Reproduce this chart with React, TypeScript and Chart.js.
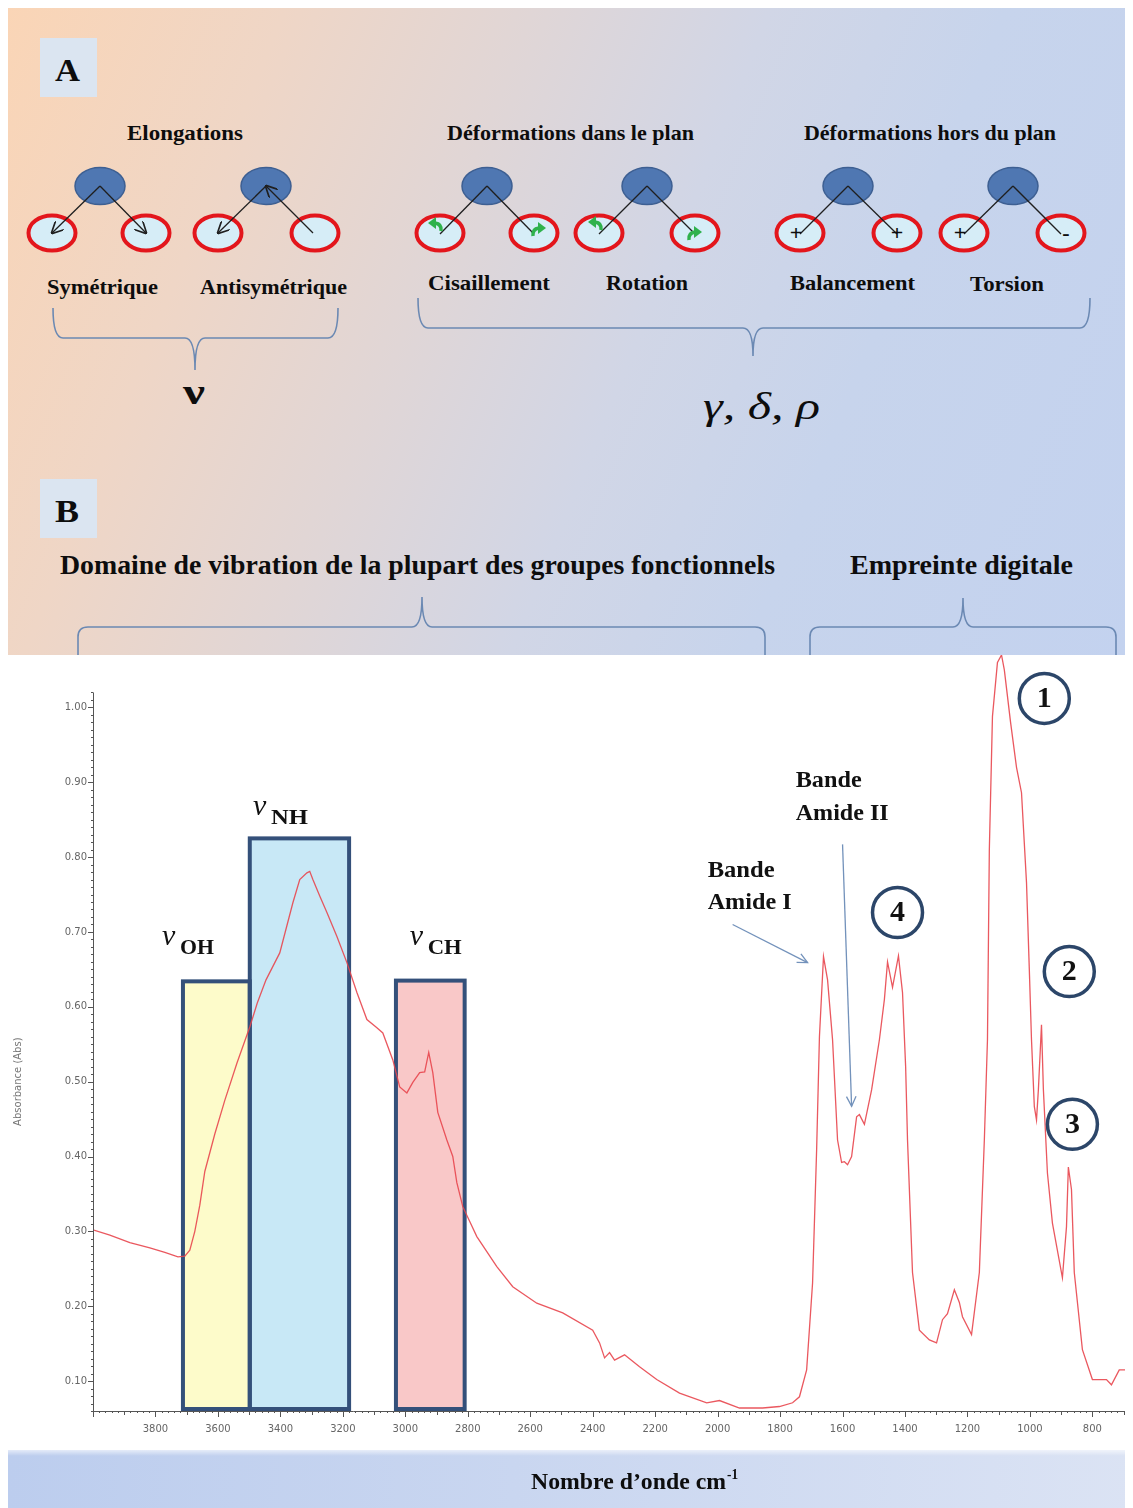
import React, { useEffect, useRef } from "react";
import { Chart, registerables } from "chart.js";

Chart.register(...registerables);

if (typeof document !== "undefined") {
  document.documentElement.style.overflow = "hidden";
}

// ---------- spectrum data (wavenumber cm-1, absorbance) ----------
const wavenumbers = [
  4000, 3946, 3882, 3818, 3770, 3728, 3706, 3690, 3674, 3658,
  3642, 3610, 3578, 3539, 3498, 3474, 3446, 3402, 3360, 3338,
  3315, 3306, 3296, 3274, 3251, 3219, 3187, 3155, 3123, 3091,
  3072, 3040, 3018, 2995, 2976, 2954, 2938, 2925, 2912, 2896,
  2867, 2848, 2835, 2816, 2771, 2707, 2656, 2579, 2496, 2400,
  2378, 2362, 2346, 2330, 2298, 2250, 2195, 2122, 2035, 1994,
  1930, 1856, 1802, 1760, 1738, 1715, 1696, 1683, 1674, 1661,
  1648, 1632, 1616, 1603, 1594, 1584, 1571, 1555, 1546, 1530,
  1507, 1482, 1466, 1456, 1440, 1421, 1408, 1398, 1392, 1376,
  1354, 1322, 1299, 1280, 1264, 1242, 1226, 1216, 1187, 1162,
  1146, 1136, 1130, 1120, 1104, 1091, 1082, 1062, 1043, 1027,
  1011, 1002, 995, 986, 979, 973, 963, 957, 944, 928,
  896, 883, 877, 867, 858, 832, 800, 755, 739, 714,
  691, 672,
];
const absorbance = [
  0.302, 0.295, 0.285, 0.278, 0.272, 0.266, 0.267, 0.275, 0.300, 0.335,
  0.380, 0.430, 0.475, 0.525, 0.573, 0.605, 0.636, 0.672, 0.739, 0.770,
  0.779, 0.781, 0.770, 0.748, 0.726, 0.694, 0.659, 0.619, 0.583, 0.572,
  0.565, 0.529, 0.493, 0.485, 0.499, 0.512, 0.513, 0.539, 0.512, 0.459,
  0.422, 0.400, 0.365, 0.333, 0.293, 0.253, 0.226, 0.204, 0.191, 0.168,
  0.151, 0.131, 0.138, 0.128, 0.135, 0.119, 0.102, 0.084, 0.071, 0.074,
  0.064, 0.064, 0.066, 0.071, 0.079, 0.115, 0.231, 0.409, 0.560, 0.667,
  0.636, 0.556, 0.422, 0.392, 0.393, 0.389, 0.400, 0.453, 0.456, 0.443,
  0.489, 0.556, 0.610, 0.660, 0.626, 0.668, 0.619, 0.520, 0.422, 0.245,
  0.168, 0.155, 0.151, 0.182, 0.190, 0.222, 0.205, 0.186, 0.162, 0.245,
  0.422, 0.556, 0.810, 0.988, 1.060, 1.070, 1.050, 0.980, 0.920, 0.886,
  0.766, 0.650, 0.556, 0.467, 0.449, 0.489, 0.576, 0.490, 0.378, 0.311,
  0.238, 0.306, 0.386, 0.356, 0.245, 0.142, 0.102, 0.102, 0.095, 0.115,
  0.115, 0.142,
];

// ---------- axis ticks ----------
const xTickLabels = [3800, 3600, 3400, 3200, 3000, 2800, 2600, 2400, 2200, 2000, 1800, 1600, 1400, 1200, 1000, 800];
const yTickLabels = [0.1, 0.2, 0.3, 0.4, 0.5, 0.6, 0.7, 0.8, 0.9, 1.0];
const yAxisTitle = "Absorbance (Abs)";

// ---------- stretching bands (boxes) ----------
const bandNames = ["OH", "NH", "CH"];
const bandFrom = [3712, 3498, 3030];
const bandTo = [3498, 3180, 2810];
const bandTop = [0.634, 0.825, 0.635];
const bandLabelW = [3779, 3488, 2986];
const bandLabelA = [0.671, 0.844, 0.670];

// ---------- numbered peaks ----------
const peakNumbers = ["1", "2", "3", "4"];
const peakCircleW = [954, 874, 864, 1424];
const peakCircleA = [1.012, 0.647, 0.443, 0.726];

// ---------- amide annotations ----------
const amideLines = ["Bande", "Amide I", "Bande", "Amide II"];
const amideTextW = [2032, 2032, 1750, 1750];
const amideTextA = [0.773, 0.730, 0.893, 0.850];
const amideArrowFromW = [1952, 1600];
const amideArrowFromA = [0.710, 0.817];
const amideArrowToW = [1712, 1571];
const amideArrowToA = [0.659, 0.467];

const X_MIN = 670;
const X_MAX = 4000;
const Y_MIN = 0.06;
const Y_MAX = 1.07;

const SERIF = '"Liberation Serif", "Times New Roman", serif';
const TICKFONT = '10px "DejaVu Sans", sans-serif';

function fitText(ctx: CanvasRenderingContext2D, text: string, x: number, y: number, w: number) {
  const m = ctx.measureText(text).width || 1;
  ctx.save();
  ctx.translate(x, y);
  ctx.scale(w / m, 1);
  ctx.fillText(text, 0, 0);
  ctx.restore();
}

function arrow(ctx: CanvasRenderingContext2D, x1: number, y1: number, x2: number, y2: number, head: number) {
  ctx.beginPath();
  ctx.moveTo(x1, y1);
  ctx.lineTo(x2, y2);
  ctx.stroke();
  const a = Math.atan2(y2 - y1, x2 - x1);
  ctx.beginPath();
  ctx.moveTo(x2 - head * Math.cos(a - 0.45), y2 - head * Math.sin(a - 0.45));
  ctx.lineTo(x2, y2);
  ctx.lineTo(x2 - head * Math.cos(a + 0.45), y2 - head * Math.sin(a + 0.45));
  ctx.stroke();
}

const bandColors = ["#fdfbca", "#c8e8f6", "#f9c8c8"];

const overlayPlugin = {
  id: "overlay",
  beforeDatasetsDraw(chart: any) {
    const { ctx, chartArea } = chart;
    const x = chart.scales.x;
    const y = chart.scales.y;
    ctx.save();
    for (let i = 0; i < bandNames.length; i++) {
      const x1 = x.getPixelForValue(bandFrom[i]);
      const x2 = x.getPixelForValue(bandTo[i]);
      const yt = y.getPixelForValue(bandTop[i]);
      ctx.fillStyle = bandColors[i];
      ctx.fillRect(x1, yt, x2 - x1, chartArea.bottom - yt);
    }
    ctx.strokeStyle = "#34507a";
    ctx.lineWidth = 4;
    for (let i = 0; i < bandNames.length; i++) {
      const x1 = x.getPixelForValue(bandFrom[i]);
      const x2 = x.getPixelForValue(bandTo[i]);
      const yt = y.getPixelForValue(bandTop[i]);
      ctx.strokeRect(x1, yt, x2 - x1, chartArea.bottom - 2 - yt);
    }
    ctx.restore();
  },
  afterDatasetsDraw(chart: any) {
    const { ctx, chartArea } = chart;
    const x = chart.scales.x;
    const y = chart.scales.y;
    ctx.save();

    // axes lines and ticks
    ctx.strokeStyle = "#555";
    ctx.lineWidth = 1;
    const yTop = y.getPixelForValue(1.02);
    ctx.beginPath();
    ctx.moveTo(chartArea.left + 0.5, yTop);
    ctx.lineTo(chartArea.left + 0.5, chartArea.bottom + 0.5);
    ctx.lineTo(chartArea.right, chartArea.bottom + 0.5);
    ctx.stroke();
    ctx.beginPath();
    for (let v = 6; v <= 102; v++) {
      const py = Math.round(y.getPixelForValue(v / 100)) + 0.5;
      const len = v % 10 === 0 ? 5 : 2;
      ctx.moveTo(chartArea.left - len, py);
      ctx.lineTo(chartArea.left, py);
    }
    for (let w = 680; w <= 4000; w += 20) {
      const px = Math.round(x.getPixelForValue(w)) + 0.5;
      const len = w % 200 === 0 ? 6 : w % 100 === 0 ? 4 : 2;
      ctx.moveTo(px, chartArea.bottom);
      ctx.lineTo(px, chartArea.bottom + len);
    }
    ctx.stroke();

    // tick labels
    ctx.fillStyle = "#666";
    ctx.font = TICKFONT;
    ctx.textAlign = "right";
    ctx.textBaseline = "middle";
    for (const v of yTickLabels) {
      ctx.fillText(v.toFixed(2), chartArea.left - 6, y.getPixelForValue(v));
    }
    ctx.textAlign = "center";
    ctx.textBaseline = "top";
    for (const v of xTickLabels) {
      ctx.fillText(String(v), x.getPixelForValue(v), chartArea.bottom + 13);
    }
    // y title
    ctx.save();
    ctx.translate(10, (y.getPixelForValue(0.3) + y.getPixelForValue(0.7)) / 2);
    ctx.rotate(-Math.PI / 2);
    ctx.fillStyle = "#777";
    ctx.textAlign = "center";
    ctx.textBaseline = "middle";
    ctx.fillText(yAxisTitle, 0, 0);
    ctx.restore();

    // band labels  ν_XX
    ctx.fillStyle = "#111";
    for (let i = 0; i < bandNames.length; i++) {
      const px = x.getPixelForValue(bandLabelW[i]);
      const py = y.getPixelForValue(bandLabelA[i]);
      ctx.font = `italic 30px ${SERIF}`;
      ctx.textAlign = "left";
      ctx.textBaseline = "alphabetic";
      ctx.fillText("ν", px, py - 9);
      ctx.font = `bold 22px ${SERIF}`;
      fitText(ctx, bandNames[i], px + 18, py, i === 1 ? 37 : 34);
    }

    // amide texts
    ctx.font = `bold 23px ${SERIF}`;
    ctx.textAlign = "left";
    ctx.textBaseline = "alphabetic";
    const amideWidths = [67, 84, 66, 93];
    for (let i = 0; i < amideLines.length; i++) {
      fitText(ctx, amideLines[i], x.getPixelForValue(amideTextW[i]), y.getPixelForValue(amideTextA[i]), amideWidths[i]);
    }
    ctx.strokeStyle = "#7392bb";
    ctx.lineWidth = 1.3;
    for (let i = 0; i < amideArrowFromW.length; i++) {
      arrow(
        ctx,
        x.getPixelForValue(amideArrowFromW[i]),
        y.getPixelForValue(amideArrowFromA[i]),
        x.getPixelForValue(amideArrowToW[i]),
        y.getPixelForValue(amideArrowToA[i]),
        11
      );
    }

    // numbered circles
    for (let i = 0; i < peakNumbers.length; i++) {
      const cx = x.getPixelForValue(peakCircleW[i]);
      const cy = y.getPixelForValue(peakCircleA[i]);
      ctx.beginPath();
      ctx.arc(cx, cy, 25, 0, Math.PI * 2);
      ctx.fillStyle = "rgba(255,255,255,0.9)";
      ctx.fill();
      ctx.strokeStyle = "#2c4669";
      ctx.lineWidth = 3.5;
      ctx.stroke();
      ctx.fillStyle = "#111";
      ctx.font = `bold 30px ${SERIF}`;
      ctx.textAlign = "center";
      ctx.textBaseline = "middle";
      ctx.fillText(peakNumbers[i], cx, cy + 1);
    }
    ctx.restore();
  },
};

// ---------- upper schematic panel (SVG in page coordinates) ----------
const TXT = { fontFamily: SERIF, fontWeight: 700, fill: "#0d0d0d" } as const;

function T(props: { x: number; y: number; w: number; s: number; children: React.ReactNode; italic?: boolean; bold?: boolean }) {
  return (
    <text
      x={props.x}
      y={props.y}
      fontSize={props.s}
      textLength={props.w}
      lengthAdjust="spacingAndGlyphs"
      style={{
        ...TXT,
        fontWeight: props.bold === false ? 400 : 700,
        fontStyle: props.italic ? "italic" : "normal",
      }}
    >
      {props.children}
    </text>
  );
}

type Mol = { cx: number; left: number; right: number; kind: string };
const molecules: Mol[] = [
  { cx: 100, left: 52, right: 146, kind: "sym" },
  { cx: 266, left: 218, right: 315, kind: "anti" },
  { cx: 487, left: 440, right: 534, kind: "cis" },
  { cx: 647, left: 599, right: 695, kind: "rot" },
  { cx: 848, left: 800, right: 897, kind: "bal" },
  { cx: 1013, left: 964, right: 1061, kind: "tor" },
];

function GreenMark({ x, y, flip }: { x: number; y: number; flip?: boolean }) {
  return (
    <g transform={`translate(${x},${y}) scale(${flip ? -1 : 1},1)`}>
      <path d="M-5,4 Q-6,-3 1,-4" fill="none" stroke="#2fb24c" strokeWidth={3.5} />
      <polygon points="0,-10 8,-4 0,2" fill="#2fb24c" />
    </g>
  );
}

function Molecule({ m }: { m: Mol }) {
  const by = 186;
  const ry = 233;
  const line = { stroke: "#1f1f1f", strokeWidth: 1.3 };
  let lines: React.ReactNode = null;
  if (m.kind === "sym") {
    lines = (
      <>
        <line x1={m.cx} y1={by} x2={m.left} y2={ry} {...line} markerEnd="url(#ah)" />
        <line x1={m.cx} y1={by} x2={m.right} y2={ry} {...line} markerEnd="url(#ah)" />
      </>
    );
  } else if (m.kind === "anti") {
    lines = (
      <>
        <line x1={m.cx} y1={by} x2={m.left} y2={ry} {...line} markerEnd="url(#ah)" />
        <line x1={m.right - 2} y1={ry} x2={m.cx} y2={by} {...line} markerEnd="url(#ah)" />
      </>
    );
  } else {
    lines = (
      <>
        <line x1={m.cx} y1={by} x2={m.left} y2={ry + 1} {...line} />
        <line x1={m.cx} y1={by} x2={m.right} y2={ry + 1} {...line} />
      </>
    );
  }
  return (
    <g>
      <ellipse cx={m.cx} cy={by} rx={25} ry={18.5} fill="#4f77b2" stroke="#3d5f92" strokeWidth={1.5} />
      <ellipse cx={m.left} cy={ry} rx={23.5} ry={17.5} fill="#d6edf7" stroke="#e3161c" strokeWidth={4} />
      <ellipse cx={m.right} cy={ry} rx={23.5} ry={17.5} fill="#d6edf7" stroke="#e3161c" strokeWidth={4} />
      {lines}
      {m.kind === "cis" && (
        <>
          <GreenMark x={436} y={227} flip />
          <GreenMark x={538} y={232} />
        </>
      )}
      {m.kind === "rot" && (
        <>
          <GreenMark x={596} y={226} flip />
          <GreenMark x={694} y={236} />
        </>
      )}
      {(m.kind === "bal" || m.kind === "tor") && (
        <>
          <text x={m.left - 4} y={ry + 7} fontSize={22} textAnchor="middle" style={{ ...TXT }}>+</text>
          <text x={m.right + (m.kind === "tor" ? 5 : 0)} y={ry + 7} fontSize={22} textAnchor="middle" style={{ ...TXT }}>
            {m.kind === "tor" ? "-" : "+"}
          </text>
        </>
      )}
    </g>
  );
}

const braceStyle = { fill: "none", stroke: "#6b89b3", strokeWidth: 1.6 };

function TopPanel() {
  return (
    <svg
      width={1125}
      height={647}
      viewBox="8 8 1125 647"
      style={{ position: "absolute", left: 0, top: 0 }}
    >
      <defs>
        <marker id="ah" viewBox="0 0 10 10" refX="9" refY="5" markerWidth="12" markerHeight="12" markerUnits="userSpaceOnUse" orient="auto">
          <path d="M0,0 L10,5 L0,10" fill="none" stroke="#1f1f1f" strokeWidth="1.4" />
        </marker>
      </defs>

      <rect x={40} y={38} width={57} height={59} fill="#dbe5f1" />
      <T x={55} y={81} w={25} s={32}>A</T>

      <T x={127} y={140} w={116} s={22}>Elongations</T>
      <T x={447} y={140} w={247} s={22}>Déformations dans le plan</T>
      <T x={804} y={140} w={252} s={22}>Déformations hors du plan</T>

      {molecules.map((m, i) => (
        <Molecule key={i} m={m} />
      ))}

      <T x={47} y={294} w={111} s={22}>Symétrique</T>
      <T x={200} y={294} w={147} s={22}>Antisymétrique</T>
      <T x={428} y={290} w={122} s={22}>Cisaillement</T>
      <T x={606} y={290} w={82} s={22}>Rotation</T>
      <T x={790} y={290} w={125} s={22}>Balancement</T>
      <T x={970} y={291} w={74} s={22}>Torsion</T>

      <path d="M53,308 Q53,338 63,338 L185,338 Q195,338 195,370 Q195,338 205,338 L328,338 Q338,338 338,308" style={braceStyle} />
      <path d="M418,298 Q418,328 428,328 L743,328 Q753,328 753,356 Q753,328 763,328 L1080,328 Q1090,328 1090,298" style={braceStyle} />

      <T x={183} y={404} w={22} s={36}>ν</T>
      <T x={703} y={419} w={117} s={38} italic bold={false}>γ, δ, ρ</T>

      <rect x={40} y={479} width={57} height={59} fill="#dbe5f1" />
      <T x={55} y={522} w={24} s={32}>B</T>

      <T x={60} y={574} w={715} s={28}>Domaine de vibration de la plupart des groupes fonctionnels</T>
      <T x={850} y={574} w={223} s={28}>Empreinte digitale</T>

      <path d="M78,660 L78,637 Q78,627 88,627 L412,627 Q422,627 422,597 Q422,627 432,627 L755,627 Q765,627 765,637 L765,660" style={braceStyle} />
      <path d="M810,660 L810,637 Q810,627 820,627 L953,627 Q963,627 963,598 Q963,627 973,627 L1106,627 Q1116,627 1116,637 L1116,660" style={braceStyle} />
    </svg>
  );
}

function BottomBand() {
  return (
    <>
      <div
        style={{
          position: "absolute",
          left: 0,
          top: 1442,
          width: 1125,
          height: 58,
          background: "linear-gradient(90deg, #bccdee 0%, #c9d6f0 45%, #dbe3f4 100%)",
        }}
      />
      <div
        style={{
          position: "absolute",
          left: 0,
          top: 1438,
          width: 1125,
          height: 10,
          background: "linear-gradient(180deg, rgba(255,255,255,1), rgba(255,255,255,0))",
        }}
      />
      <svg width={1125} height={58} viewBox="8 1450 1125 58" style={{ position: "absolute", left: 0, top: 1442 }}>
        <T x={531} y={1489} w={195} s={23}>Nombre d’onde cm</T>
        <T x={727} y={1479} w={11} s={14}>-1</T>
      </svg>
    </>
  );
}

export default function App() {
  const canvasRef = useRef<HTMLCanvasElement>(null);

  useEffect(() => {
    const canvas = canvasRef.current;
    if (!canvas) return;
    const points = wavenumbers.map((w, i) => ({ x: w, y: absorbance[i] }));
    const chart = new Chart(canvas, {
      type: "line",
      data: {
        datasets: [
          {
            label: "Absorbance",
            data: points,
            borderColor: "rgba(232, 70, 78, 0.9)",
            borderWidth: 1.3,
            pointRadius: 0,
            tension: 0,
            fill: false,
          },
        ],
      },
      options: {
        animation: false,
        responsive: false,
        maintainAspectRatio: false,
        layout: { padding: 0 },
        plugins: { legend: { display: false }, tooltip: { enabled: false } },
        scales: {
          x: {
            type: "linear",
            reverse: true,
            min: X_MIN,
            max: X_MAX,
            afterBuildTicks: (s: any) => {
              s.ticks = xTickLabels.map((v) => ({ value: v }));
            },
            afterFit: (s: any) => {
              s.height = 39;
            },
            grid: { display: false, drawTicks: false },
            border: { display: false },
            ticks: { display: false },
          },
          y: {
            type: "linear",
            min: Y_MIN,
            max: Y_MAX,
            afterBuildTicks: (s: any) => {
              s.ticks = yTickLabels.map((v) => ({ value: v }));
            },
            afterFit: (s: any) => {
              s.width = 85;
            },
            grid: { display: false, drawTicks: false },
            border: { display: false },
            ticks: { display: false },
          },
        },
      },
      plugins: [overlayPlugin],
    } as any);
    return () => chart.destroy();
  }, []);

  return (
    <div style={{ position: "relative", width: 1125, height: 1500, overflow: "hidden", background: "#fff" }}>
      <div
        style={{
          position: "absolute",
          left: 0,
          top: 0,
          width: 1125,
          height: 647,
          background:
            "linear-gradient(112deg, #fad5b6 0%, #efd6c6 20%, #e0d6d6 38%, #d1d6e6 55%, #c7d4ec 72%, #c3d2ef 100%)",
        }}
      />
      <TopPanel />
      <canvas
        ref={canvasRef}
        width={1125}
        height={795}
        style={{ position: "absolute", left: 0, top: 647, width: 1125, height: 795 }}
      />
      <BottomBand />
    </div>
  );
}
